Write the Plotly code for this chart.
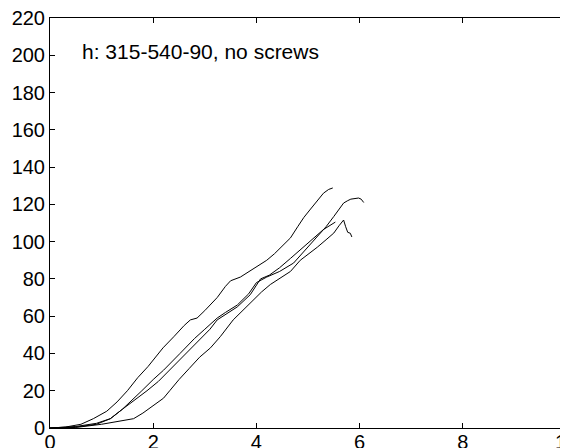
import plotly.graph_objects as go

# Curve data (x, y)
a_x = [0, 0.3, 0.6, 0.84, 1.1, 1.3, 1.5, 1.7, 1.9, 2.1, 2.19, 2.4, 2.6, 2.72, 2.85, 3.0, 3.24, 3.4, 3.5, 3.69, 3.88, 4.05, 4.2, 4.35, 4.53, 4.66, 4.8, 4.92, 5.05, 5.18, 5.3, 5.4, 5.48]
a_y = [0, 0.5, 2, 5, 9, 14, 20, 27, 33, 40, 43, 49, 55, 58, 59, 63, 70, 76, 79, 81, 84.5, 87.5, 90, 93.5, 98.5, 102, 108, 113, 117.5, 122, 126, 128, 128.8]

b_x = [0, 0.5, 0.9, 1.17, 1.4, 1.6, 1.78, 2.0, 2.2, 2.52, 2.8, 3.0, 3.24, 3.4, 3.63, 3.85, 4.0, 4.2, 4.45, 4.72, 4.99, 5.18, 5.35, 5.5, 5.69, 5.77, 5.83, 5.98, 6.03, 6.08]
b_y = [0, 0.8, 2.5, 5, 10, 15, 20, 26, 31, 40, 48, 53, 59, 62, 66, 72, 78, 81, 84, 88.5, 96.6, 102.5, 108, 113.5, 120.7, 122, 122.8, 123.4, 122.8, 121]

c_x = [0, 0.5, 0.9, 1.17, 1.4, 1.65, 1.88, 2.1, 2.35, 2.65, 2.9, 3.1, 3.24, 3.45, 3.63, 3.88, 4.08, 4.25, 4.45, 4.66, 4.9, 5.1, 5.3, 5.53]
c_y = [0, 0.5, 2, 5, 10, 15, 20, 25, 32, 40, 47, 53, 58, 62, 65, 71.5, 80, 82, 86, 91, 97, 102, 106.5, 110.5]

d_x = [0, 0.5, 1.0, 1.3, 1.62, 1.8, 2.0, 2.2, 2.32, 2.5, 2.7, 2.9, 3.11, 3.3, 3.55, 3.88, 4.1, 4.27, 4.4, 4.66, 4.85, 5.0, 5.18, 5.35, 5.5, 5.6, 5.69, 5.73, 5.77, 5.82, 5.85]
d_y = [0, 0.3, 2, 3.5, 5, 8, 12, 16, 20, 26, 32, 38, 43, 49, 58, 67, 73, 77, 79.4, 84, 90, 93, 97, 101, 104.6, 108.5, 111.6, 108, 105, 104.5, 102.5]

x_ticks = [0, 2, 4, 6, 8, 10]
y_ticks = list(range(0, 221, 20))
label_text = "h: 315-540-90, no screws"

fig = go.Figure()
for xs, ys in [(a_x, a_y), (b_x, b_y), (c_x, c_y), (d_x, d_y)]:
    fig.add_trace(go.Scatter(x=xs, y=ys, mode="lines",
                             line=dict(color="black", width=1),
                             showlegend=False, hoverinfo="skip"))

fig.add_annotation(x=0.585, y=202, xref="x", yref="y", text=label_text,
                   showarrow=False, xanchor="left", yanchor="middle",
                   font=dict(family="Arial", size=21, color="black"))

axis_common = dict(showline=True, linecolor="black", linewidth=1, mirror="ticks",
                   ticks="inside", ticklen=5, tickcolor="black", tickwidth=1,
                   showgrid=False, zeroline=False, ticklabeloverflow="allow",
                   tickfont=dict(family="Arial", size=20, color="black"))

fig.update_xaxes(range=[0, 10], tickvals=x_ticks, ticktext=[str(v) for v in x_ticks],
                 automargin=False, ticklabelstandoff=-4, **axis_common)
fig.update_yaxes(range=[0, 220], tickvals=y_ticks, ticktext=[str(v) for v in y_ticks],
                 automargin=False, **axis_common)

# page body has an 8px margin, so the figure is offset by 8px
fig.update_layout(width=560, height=440,
                  margin=dict(l=42, r=2, t=10, b=20),
                  paper_bgcolor="white", plot_bgcolor="white")

fig.write_html("out.html")
